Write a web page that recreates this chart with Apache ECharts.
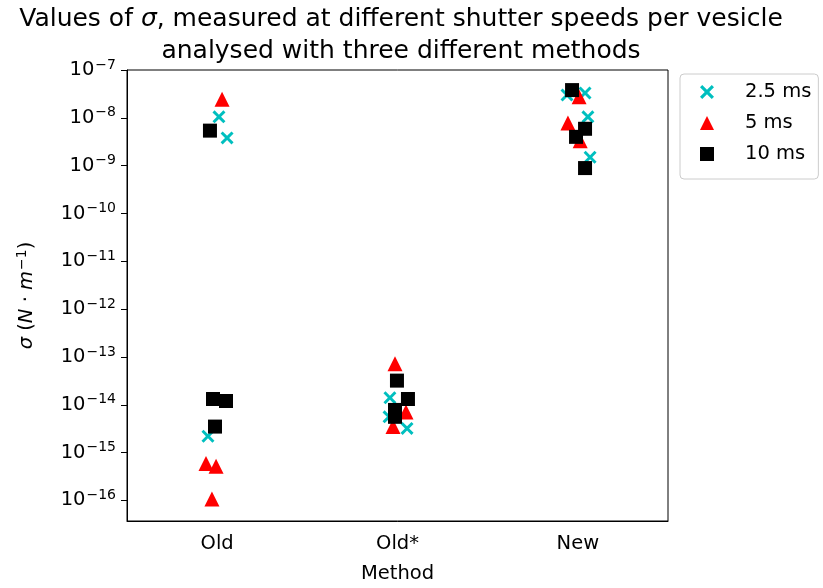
<!DOCTYPE html>
<html>
<head>
<meta charset="utf-8">
<script src="https://cdn.jsdelivr.net/npm/echarts@6/dist/echarts.min.js"></script>
<style>
  html, body { margin: 0; padding: 0; background: #fff; }
  #chart { width: 823px; height: 588px; }
</style>
</head>
<body>
<div id="chart"></div>
<script>
// methods on the x axis, points are jittered around 1, 2, 3
const methods = ['Old', 'Old*', 'New'];
const seriesNames = ['2.5 ms', '5 ms', '10 ms'];
const yTicks = [1e-16, 1e-15, 1e-14, 1e-13, 1e-12, 1e-11, 1e-10, 1e-9, 1e-8, 1e-7];

// 2.5 ms
const x25 = [1.010, 1.055, 0.949, 1.958, 1.953, 2.053, 2.940, 3.040, 3.056, 3.068];
const sigma25 = [1.05e-8, 3.8e-9, 2.2e-15, 1.4e-14, 5.6e-15, 3.2e-15, 3.0e-8, 3.3e-8, 1.05e-8, 1.5e-9];

// 5 ms
const x5 = [1.027, 0.938, 0.994, 0.971, 1.986, 2.047, 1.975, 3.007, 2.945, 3.013];
const sigma5 = [2.45e-8, 5.9e-16, 5.2e-16, 1.07e-16, 7.2e-14, 7.1e-15, 3.5e-15, 2.75e-8, 7.8e-9, 3.3e-9];

// 10 ms
const x10 = [0.960, 0.977, 1.049, 0.988, 1.997, 2.058, 1.986, 1.986, 2.968, 3.040, 2.990, 3.040];
const sigma10 = [5.4e-9, 1.32e-14, 1.2e-14, 3.5e-15, 3.2e-14, 1.32e-14, 7.8e-15, 5.6e-15, 3.8e-8, 5.9e-9, 4.0e-9, 8.9e-10];

const pairs = (xs, ys) => xs.map((x, i) => [x, ys[i]]);

const FONT = '"DejaVu Sans", sans-serif';
const LBL = 19.5;
const crossPath = 'path://M0,1.6 L1.6,0 L5,3.4 L8.4,0 L10,1.6 L6.6,5 L10,8.4 L8.4,10 L5,6.6 L1.6,10 L0,8.4 L3.4,5 Z';

const chart = echarts.init(document.getElementById('chart'), null, {renderer: 'canvas'});

let option = {
  animation: false,
  backgroundColor: '#fff',
  textStyle: {fontFamily: FONT, color: '#000'},
  title: {
    text: 'Values of {i|σ}, measured at different shutter speeds per vesicle\nanalysed with three different methods',
    left: 396,
    top: -2,
    textAlign: 'center',
    textStyle: {
      fontFamily: FONT,
      fontSize: 25,
      fontWeight: 'normal',
      color: '#000',
      lineHeight: 32,
      rich: {
        i: {fontFamily: FONT, fontSize: 25, fontStyle: 'italic', color: '#000', lineHeight: 32}
      }
    }
  },
  legend: {
    left: 680,
    top: 74,
    orient: 'vertical',
    data: seriesNames,
    itemWidth: 14,
    itemHeight: 14,
    itemGap: 11,
    padding: [8, 7, 15, 20],
    borderColor: '#cccccc',
    borderWidth: 1,
    borderRadius: 4,
    backgroundColor: '#fff',
    textStyle: {fontFamily: FONT, fontSize: LBL, lineHeight: 20, color: '#000', padding: [0, 0, 0, 26]}
  },
  grid: {
    left: 127,
    top: 70,
    width: 541,
    height: 451,
    outerBoundsMode: 'none',
    containLabel: false,
    show: true,
    borderColor: '#000',
    borderWidth: 1
  },
  xAxis: [{
    type: 'category',
    data: methods,
    boundaryGap: true,
    name: 'Method',
    nameLocation: 'middle',
    nameGap: 43,
    nameTextStyle: {fontFamily: FONT, fontSize: LBL, color: '#000'},
    axisLine: {lineStyle: {color: '#000', width: 1}},
    axisTick: {alignWithLabel: true, length: 6, lineStyle: {color: '#000'}},
    axisLabel: {fontFamily: FONT, fontSize: LBL, color: '#000', margin: 13},
    splitLine: {show: false}
  }, {
    type: 'value',
    min: 0.5,
    max: 3.5,
    show: false,
    splitLine: {show: false}
  }],
  yAxis: {
    type: 'log',
    logBase: 10,
    min: Math.pow(10, -16.43),
    max: 1e-7,
    name: '{i|σ} ({i|N} · {i|m}{s|−1})',
    nameLocation: 'middle',
    nameRotate: 90,
    nameGap: 89,
    nameTextStyle: {
      fontFamily: FONT, fontSize: LBL, color: '#000',
      rich: {
        i: {fontFamily: FONT, fontSize: LBL, fontStyle: 'italic', color: '#000'},
        s: {fontFamily: FONT, fontSize: 14, color: '#000', verticalAlign: 'top', padding: [0, 0, 9, 1]}
      }
    },
    axisLine: {show: true, lineStyle: {color: '#000', width: 1}},
    axisTick: {length: 6, lineStyle: {color: '#000'}, customValues: yTicks},
    splitLine: {show: false},
    axisLabel: {
      margin: 11,
      customValues: yTicks,
      formatter: function (v) {
        const r = Math.round(Math.log10(v));
        return '{b|10}{s|−' + Math.abs(r) + '}';
      },
      rich: {
        b: {fontFamily: FONT, fontSize: LBL, color: '#000'},
        s: {fontFamily: FONT, fontSize: 14, color: '#000', verticalAlign: 'top', padding: [0, 0, 10, 1]}
      }
    }
  },
  series: [{
    name: seriesNames[0],
    type: 'scatter',
    xAxisIndex: 1,
    symbol: crossPath,
    symbolSize: 13,
    itemStyle: {color: '#00bfbf', opacity: 1},
    data: pairs(x25, sigma25)
  }, {
    name: seriesNames[1],
    type: 'scatter',
    xAxisIndex: 1,
    symbol: 'triangle',
    symbolSize: 15,
    itemStyle: {color: '#ff0000', opacity: 1},
    data: pairs(x5, sigma5)
  }, {
    name: seriesNames[2],
    type: 'scatter',
    xAxisIndex: 1,
    symbol: 'rect',
    symbolSize: 14,
    itemStyle: {color: '#000000', opacity: 1},
    data: pairs(x10, sigma10)
  }]
};

chart.setOption(option);
</script>
</body>
</html>
